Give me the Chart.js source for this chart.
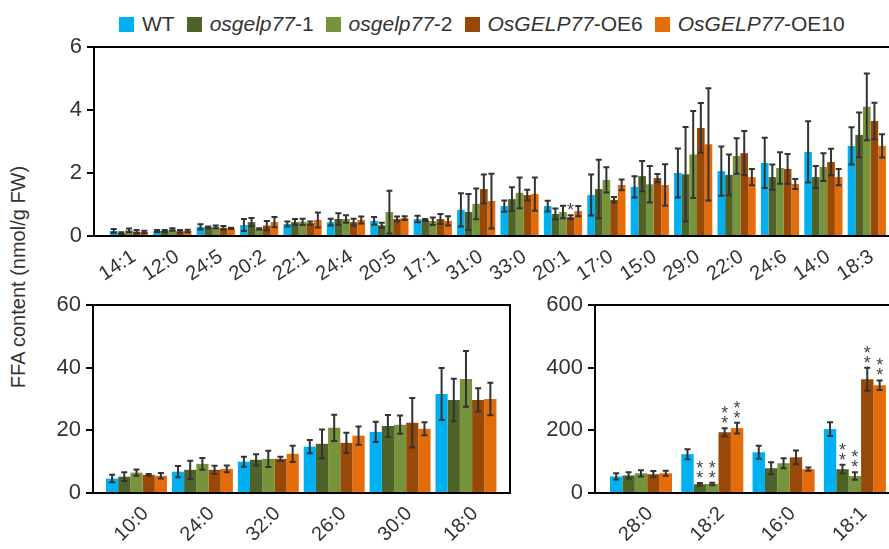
<!DOCTYPE html>
<html>
<head>
<meta charset="utf-8">
<title>FFA content</title>
<script src="https://cdn.jsdelivr.net/npm/chart.js@4.4.1/dist/chart.umd.min.js"></script>
<style>
    html, body {
        margin: 0;
        padding: 0;
        overflow: hidden;
        background: #fff;
    }
    body {
        position: relative;
        width: 889px;
        height: 549px;
        font-family: 'Liberation Sans', Arial, sans-serif;
        color: #333;
    }
    canvas {
        position: absolute;
    }
    #legend {
        position: absolute;
        left: 119px;
        top: 12px;
        display: flex;
        align-items: center;
        font-size: 21px;
        white-space: nowrap;
    }
    #legend .item {
        display: flex;
        align-items: center;
        margin-right: 12px;
    }
    #legend .swatch {
        width: 15px;
        height: 15px;
        margin-right: 8px;
    }
    #yTitle {
        position: absolute;
        left: 18px;
        top: 277px;
        transform: translate(-50%, -50%) rotate(-90deg);
        font-size: 20px;
        white-space: nowrap;
    }
</style>
</head>
<body>
<div id="legend"></div>
<div id="yTitle">FFA content (nmol/g FW)</div>
<canvas id="topChart" width="900" height="270" style="left:0;top:20px"></canvas>
<canvas id="leftChart" width="520" height="254" style="left:0;top:295px"></canvas>
<canvas id="rightChart" width="380" height="254" style="left:520px;top:295px"></canvas>

<script>
// Lines: WT, two knockouts, two overexpressors
const seriesNames = ['WT', 'osgelp77-1', 'osgelp77-2', 'OsGELP77-OE6', 'OsGELP77-OE10'];
const legendItalic = ['', 'osgelp77', 'osgelp77', 'OsGELP77', 'OsGELP77'];
const legendPlain = ['WT', '-1', '-2', '-OE6', '-OE10'];
const seriesColors = ['#00B0F0', '#4F6228', '#77933C', '#984807', '#E46C0A'];

// Minor fatty acids (0-6 nmol/g FW)
const topLabels = ['14:1', '12:0', '24:5', '20:2', '22:1', '24:4', '20:5', '17:1', '31:0',
    '33:0', '20:1', '17:0', '15:0', '29:0', '22:0', '24:6', '14:0', '18:3'];
const topWT = [0.16, 0.16, 0.29, 0.35, 0.38, 0.44, 0.48, 0.54, 0.83, 0.95, 0.95, 1.30, 1.56, 2.00, 2.06, 2.32, 2.67, 2.86];
const topOs1 = [0.09, 0.16, 0.27, 0.44, 0.44, 0.54, 0.34, 0.51, 0.76, 1.17, 0.70, 1.49, 1.90, 1.96, 1.94, 1.87, 1.87, 3.21];
const topOs2 = [0.18, 0.21, 0.29, 0.23, 0.45, 0.54, 0.76, 0.47, 1.02, 1.37, 0.76, 1.78, 1.64, 2.59, 2.54, 2.16, 2.19, 4.10];
const topOE6 = [0.14, 0.15, 0.26, 0.33, 0.41, 0.44, 0.54, 0.54, 1.49, 1.30, 0.60, 1.15, 1.84, 3.43, 2.63, 2.13, 2.35, 3.65];
const topOE10 = [0.13, 0.16, 0.24, 0.44, 0.51, 0.51, 0.57, 0.48, 1.11, 1.33, 0.79, 1.62, 1.62, 2.91, 1.87, 1.65, 1.87, 2.86];
const topErrWT = [0.06, 0.03, 0.08, 0.19, 0.08, 0.11, 0.12, 0.10, 0.53, 0.18, 0.17, 0.65, 0.34, 0.78, 0.78, 0.80, 0.97, 0.59];
const topErrOs1 = [0.03, 0.03, 0.03, 0.13, 0.10, 0.18, 0.08, 0.03, 0.57, 0.38, 0.17, 0.93, 0.48, 1.50, 0.65, 0.40, 0.35, 0.71];
const topErrOs2 = [0.06, 0.04, 0.04, 0.02, 0.10, 0.12, 0.68, 0.12, 0.49, 0.49, 0.20, 0.40, 0.58, 1.38, 0.56, 0.50, 0.44, 1.06];
const topErrOE6 = [0.05, 0.04, 0.06, 0.15, 0.05, 0.11, 0.08, 0.16, 0.46, 0.17, 0.06, 0.09, 0.13, 0.79, 0.70, 0.47, 0.42, 0.58];
const topErrOE10 = [0.04, 0.04, 0.02, 0.16, 0.24, 0.11, 0.06, 0.15, 0.87, 0.53, 0.16, 0.17, 0.66, 1.78, 0.26, 0.16, 0.26, 0.37];
const topMarksOE6 = ['', '', '', '', '', '', '', '', '', '', '*', '', '', '', '', '', '', ''];

// Medium fatty acids (0-60)
const leftLabels = ['10:0', '24:0', '32:0', '26:0', '30:0', '18:0'];
const leftWT = [4.6, 6.8, 10.0, 14.8, 19.5, 31.6];
const leftOs1 = [5.2, 7.4, 10.6, 15.7, 21.4, 29.7];
const leftOs2 = [6.5, 9.3, 10.9, 20.8, 21.8, 36.4];
const leftOE6 = [5.8, 7.4, 10.9, 16.0, 22.4, 29.7];
const leftOE10 = [5.5, 7.7, 12.5, 18.3, 20.5, 30.0];
const leftErrWT = [1.2, 1.8, 1.6, 2.1, 3.2, 8.3];
const leftErrOs1 = [1.4, 2.9, 1.8, 4.6, 3.5, 6.8];
const leftErrOs2 = [1.0, 1.9, 2.6, 4.2, 2.9, 8.9];
const leftErrOE6 = [0.3, 1.3, 0.7, 3.2, 7.9, 3.7];
const leftErrOE10 = [0.9, 1.1, 2.6, 2.9, 2.1, 5.2];

// Major fatty acids (0-600)
const rightLabels = ['28:0', '18:2', '16:0', '18:1'];
const rightWT = [53, 124, 130, 204];
const rightOs1 = [56, 28, 79, 76];
const rightOs2 = [63, 29, 95, 54];
const rightOE6 = [60, 194, 114, 363];
const rightOE10 = [63, 207, 76, 344];
const rightErrWT = [10, 16, 21, 22];
const rightErrOs1 = [10, 4, 19, 14];
const rightErrOs2 = [10, 4, 16, 12];
const rightErrOE6 = [10, 13, 22, 37];
const rightErrOE10 = [8, 17, 5, 15];
const rightMarks = ['', '**', '', '**'];

// Y tick ranges per panel: min, max, step
const topTicks = [0, 6, 2];
const leftTicks = [0, 60, 20];
const rightTicks = [0, 600, 200];

const FONT = '"Liberation Sans", Arial, sans-serif';

document.addEventListener('DOMContentLoaded', function() {
    buildLegend();

    makePanel('topChart', {
        labels: topLabels,
        values: [topWT, topOs1, topOs2, topOE6, topOE10],
        errors: [topErrWT, topErrOs1, topErrOs2, topErrOE6, topErrOE10],
        marks: [null, null, null, topMarksOE6, null],
        ticks: topTicks,
        xMin: -0.806, xMax: 17.65,
        catPct: 0.88,
        rotation: 33,
        labelOffset: 5,
        padding: { top: 27, right: 5, left: 0, bottom: 0 },
        yWidth: 94, xHeight: 54
    });

    makePanel('leftChart', {
        labels: leftLabels,
        values: [leftWT, leftOs1, leftOs2, leftOE6, leftOE10],
        errors: [leftErrWT, leftErrOs1, leftErrOs2, leftErrOE6, leftErrOE10],
        marks: null,
        ticks: leftTicks,
        xMin: -0.66, xMax: 5.668,
        catPct: 0.925,
        rotation: 45,
        labelOffset: 9,
        padding: { top: 10, right: 10, left: 0, bottom: 0 },
        yWidth: 93, xHeight: 56
    });

    makePanel('rightChart', {
        labels: rightLabels,
        values: [rightWT, rightOs1, rightOs2, rightOE6, rightOE10],
        errors: [rightErrWT, rightErrOs1, rightErrOs2, rightErrOE6, rightErrOE10],
        marks: [null, rightMarks, rightMarks, rightMarks, rightMarks],
        ticks: rightTicks,
        xMin: -0.645, xMax: 3.563,
        catPct: 0.87,
        rotation: 45,
        labelOffset: 9,
        padding: { top: 10, right: 5, left: 0, bottom: 0 },
        yWidth: 75, xHeight: 56
    });
});

function buildLegend() {
    const legend = document.getElementById('legend');
    seriesNames.forEach((name, s) => {
        const item = document.createElement('div');
        item.className = 'item';
        const swatch = document.createElement('span');
        swatch.className = 'swatch';
        swatch.style.background = seriesColors[s];
        const text = document.createElement('span');
        if (legendItalic[s]) {
            const em = document.createElement('i');
            em.textContent = legendItalic[s];
            text.appendChild(em);
        }
        text.appendChild(document.createTextNode(legendPlain[s]));
        item.appendChild(swatch);
        item.appendChild(text);
        legend.appendChild(item);
    });
}

// Black box round the plot area
const framePlugin = {
    id: 'frame',
    afterDraw(chart) {
        const { ctx, chartArea: a } = chart;
        ctx.save();
        ctx.strokeStyle = '#000';
        ctx.lineWidth = 2;
        ctx.strokeRect(a.left, a.top, a.right - a.left, a.bottom - a.top);
        ctx.restore();
    }
};

// Mean +/- SD whiskers and significance stars
const errorBarPlugin = {
    id: 'errorBars',
    afterDatasetsDraw(chart) {
        const { ctx, scales: { y } } = chart;
        ctx.save();
        ctx.strokeStyle = '#333';
        ctx.lineWidth = 2;
        chart.data.datasets.forEach((ds, s) => {
            const meta = chart.getDatasetMeta(s);
            meta.data.forEach((bar, i) => {
                const v = ds.data[i].y;
                const e = ds.errors[i];
                const top = y.getPixelForValue(v + e);
                const bot = y.getPixelForValue(Math.max(v - e, 0));
                ctx.beginPath();
                ctx.moveTo(bar.x, top);
                ctx.lineTo(bar.x, bot);
                ctx.moveTo(bar.x - 3, top);
                ctx.lineTo(bar.x + 3, top);
                ctx.moveTo(bar.x - 3, bot);
                ctx.lineTo(bar.x + 3, bot);
                ctx.stroke();

                const mark = ds.marks ? ds.marks[i] : '';
                if (mark) {
                    ctx.fillStyle = '#444';
                    ctx.font = '18px ' + FONT;
                    ctx.textAlign = 'center';
                    ctx.textBaseline = 'top';
                    for (let k = 0; k < mark.length; k++) {
                        const row = mark.length - 1 - k;
                        ctx.fillText('*', bar.x, top - 13 - row * 10);
                    }
                }
            });
        });
        ctx.restore();
    }
};

function makePanel(canvasId, cfg) {
    const ctx = document.getElementById(canvasId).getContext('2d');
    return new Chart(ctx, {
        type: 'bar',
        data: {
            datasets: cfg.values.map((vals, s) => ({
                label: seriesNames[s],
                data: vals.map((v, i) => ({ x: i, y: v })),
                errors: cfg.errors[s],
                marks: cfg.marks ? cfg.marks[s] : null,
                backgroundColor: seriesColors[s],
                borderWidth: 0,
                categoryPercentage: cfg.catPct,
                barPercentage: 1
            }))
        },
        options: {
            responsive: false,
            animation: false,
            layout: { padding: cfg.padding },
            plugins: {
                legend: { display: false },
                tooltip: { enabled: false }
            },
            scales: {
                x: {
                    type: 'linear',
                    offset: false,
                    min: cfg.xMin,
                    max: cfg.xMax,
                    grid: { display: false, drawTicks: false },
                    border: { display: true, color: '#000', width: 2 },
                    ticks: {
                        stepSize: 1,
                        includeBounds: false,
                        autoSkip: false,
                        minRotation: cfg.rotation,
                        maxRotation: cfg.rotation,
                        labelOffset: cfg.labelOffset,
                        padding: 9,
                        color: '#333',
                        font: { family: FONT, size: 20 },
                        callback: v => Number.isInteger(v) ? cfg.labels[v] : ''
                    },
                    afterFit: scale => {
                        scale.height = cfg.xHeight;
                        scale.paddingLeft = 0;
                        scale.paddingRight = 0;
                    }
                },
                y: {
                    min: cfg.ticks[0],
                    max: cfg.ticks[1],
                    grid: {
                        display: true,
                        drawOnChartArea: false,
                        drawTicks: true,
                        tickLength: 7,
                        color: '#000',
                        lineWidth: 2
                    },
                    border: { display: true, color: '#000', width: 2 },
                    ticks: {
                        stepSize: cfg.ticks[2],
                        padding: 5,
                        color: '#333',
                        font: { family: FONT, size: 22 }
                    },
                    afterFit: scale => {
                        scale.width = cfg.yWidth;
                        scale.paddingTop = 0;
                        scale.paddingBottom = 0;
                    }
                }
            }
        },
        plugins: [errorBarPlugin, framePlugin]
    });
}
</script>
</body>
</html>
